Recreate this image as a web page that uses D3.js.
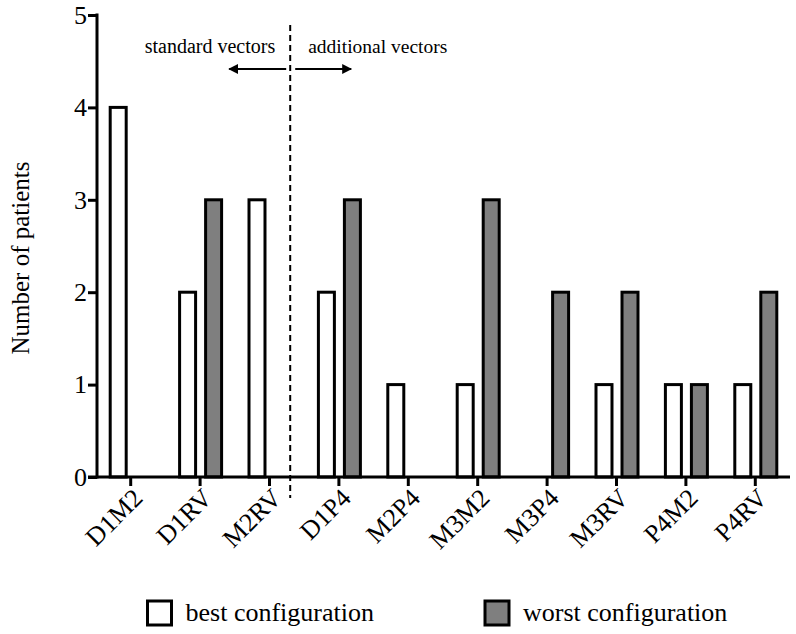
<!DOCTYPE html>
<html>
<head>
<meta charset="utf-8">
<script src="https://cdn.jsdelivr.net/npm/d3@7"></script>
<style>
  html, body { margin: 0; padding: 0; background: #fff; }
  svg { display: block; }
  text { font-family: "Liberation Serif", "DejaVu Serif", serif; fill: #000; }
</style>
</head>
<body>
<svg id="chart" width="796" height="634"></svg>
<script>
// ---- data ----
const categories = ["D1M2", "D1RV", "M2RV", "D1P4", "M2P4", "M3M2", "M3P4", "M3RV", "P4M2", "P4RV"];
const bestValues  = [4, 2, 3, 2, 1, 1, 0, 1, 1, 1];
const worstValues = [0, 3, 0, 3, 0, 3, 2, 2, 1, 2];
const seriesNames = ["best configuration", "worst configuration"];
const seriesColors = ["#ffffff", "#7f7f7f"];
const yTicks = [0, 1, 2, 3, 4, 5];
const yTitle = "Number of patients";
const leftNote = "standard vectors";
const rightNote = "additional vectors";

// ---- layout ----
const svg = d3.select("#chart");
const x = d3.scaleBand().domain(categories).range([96, 790]).padding(0);
const sub = d3.scaleBand().domain(seriesNames).range([-20.5, 21.5]).paddingInner(0.385);
const y = d3.scaleLinear().domain([0, 5]).range([477, 15]);
const cx = c => x(c) + x.bandwidth() / 2;
const axisX = 97;

// bars
const rows = categories.map((c, i) => ({c, vals: [bestValues[i], worstValues[i]]}));
const g = svg.append("g");
rows.forEach(r => {
  r.vals.forEach((v, k) => {
    if (v <= 0) return;
    g.append("rect")
      .attr("x", cx(r.c) + sub(seriesNames[k]))
      .attr("y", y(v))
      .attr("width", sub.bandwidth())
      .attr("height", y(0) - y(v))
      .attr("fill", seriesColors[k])
      .attr("stroke", "#000")
      .attr("stroke-width", 3);
  });
});

// y axis
const yAxis = d3.axisLeft(y).tickValues(yTicks).tickSize(9).tickPadding(1).tickFormat(d3.format("d"));
const ya = svg.append("g").attr("transform", `translate(${axisX},0)`).call(yAxis);
ya.select(".domain").remove();
ya.append("line").attr("x1", 0).attr("x2", 0).attr("y1", y(5) - 1.5).attr("y2", y(0) + 1.5)
  .attr("stroke", "#000").attr("stroke-width", 3);
ya.selectAll(".tick line").attr("stroke", "#000").attr("stroke-width", 3);
ya.selectAll(".tick text").attr("font-size", 26).attr("font-family", "Liberation Serif");

// x axis
const xAxis = d3.axisBottom(x).tickSize(9).tickFormat("");
const xa = svg.append("g").attr("transform", `translate(0,${y(0)})`).call(xAxis);
xa.select(".domain").remove();
xa.append("line").attr("x1", 88).attr("x2", 790).attr("y1", 0).attr("y2", 0)
  .attr("stroke", "#000").attr("stroke-width", 3);
xa.selectAll(".tick line").attr("stroke", "#000").attr("stroke-width", 3);
xa.selectAll(".tick").append("text")
  .attr("transform", "translate(7,16) rotate(-45)")
  .attr("text-anchor", "end")
  .attr("font-size", 26)
  .attr("dy", "0.35em")
  .text(d => d);

// y title
svg.append("text")
  .attr("transform", `translate(29,${(y(0) + y(5)) / 2 + 12}) rotate(-90)`)
  .attr("text-anchor", "middle")
  .attr("font-size", 25)
  .text(yTitle);

// divider
const divX = x("D1P4") - 14;
svg.append("line").attr("x1", divX).attr("x2", divX).attr("y1", 25).attr("y2", 498)
  .attr("stroke", "#000").attr("stroke-width", 2).attr("stroke-dasharray", "6,4");

// arrows
const defs = svg.append("defs");
defs.append("marker").attr("id", "ah").attr("viewBox", "0 0 10 10").attr("refX", 9).attr("refY", 5)
  .attr("markerWidth", 10).attr("markerHeight", 10).attr("markerUnits", "userSpaceOnUse")
  .attr("orient", "auto")
  .append("path").attr("d", "M0,0 L10,5 L0,10 Z").attr("fill", "#000");
const arrowY = 69;
svg.append("line").attr("x1", divX - 4).attr("x2", divX - 61).attr("y1", arrowY).attr("y2", arrowY)
  .attr("stroke", "#000").attr("stroke-width", 2).attr("marker-end", "url(#ah)");
svg.append("line").attr("x1", divX + 5).attr("x2", divX + 61).attr("y1", arrowY).attr("y2", arrowY)
  .attr("stroke", "#000").attr("stroke-width", 2).attr("marker-end", "url(#ah)");

svg.append("text").attr("x", divX - 15).attr("y", 53).attr("text-anchor", "end")
  .attr("font-size", 20).text(leftNote);
svg.append("text").attr("x", divX + 18).attr("y", 53).attr("text-anchor", "start")
  .attr("font-size", 19.5).text(rightNote);

// legend
const legendX = [147.5, 485];
seriesNames.forEach((name, k) => {
  const lg = svg.append("g").attr("transform", `translate(${legendX[k]},601)`);
  lg.append("rect").attr("x", 0).attr("y", 0).attr("width", 24).attr("height", 24)
    .attr("fill", seriesColors[k]).attr("stroke", "#000").attr("stroke-width", 3);
  lg.append("text").attr("x", 38).attr("y", 20).attr("font-size", 26).text(name);
});
</script>
</body>
</html>
